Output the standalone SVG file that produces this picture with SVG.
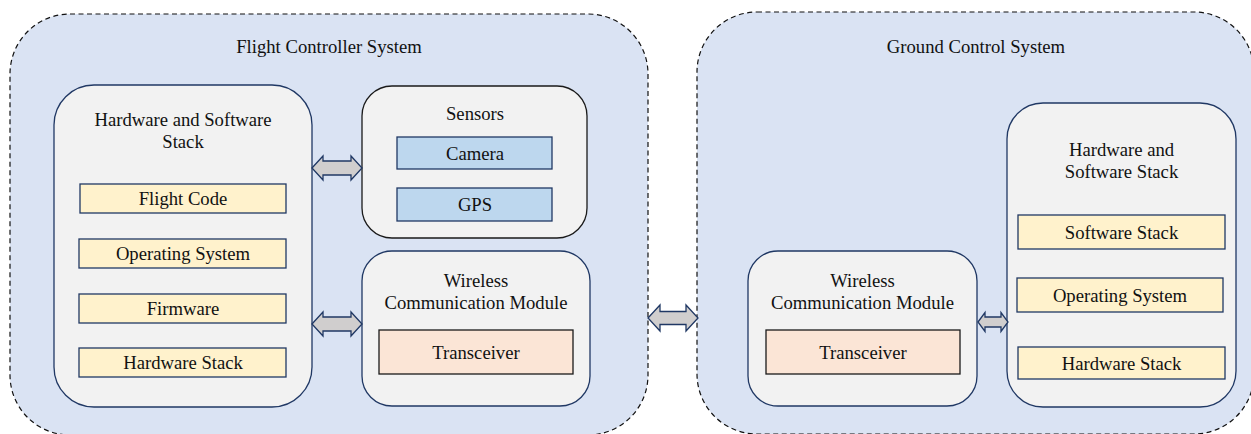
<svg xmlns="http://www.w3.org/2000/svg" width="1251" height="434" viewBox="0 0 1251 434">
<style>
text{font-family:"Liberation Serif","Times New Roman",serif;font-size:18.67px;fill:#111;text-anchor:middle}
.sys{fill:#dae3f3;stroke:#111;stroke-width:1.2;stroke-dasharray:5,3.5}
.box{fill:#f2f2f2;stroke:#203864;stroke-width:1.3}
.boxk{fill:#f2f2f2;stroke:#1a1a1a;stroke-width:1.3}
.yel{fill:#fff2cc;stroke:#203864;stroke-width:1.3}
.blu{fill:#bdd7ee;stroke:#203864;stroke-width:1.3}
.pch{fill:#fbe5d6;stroke:#1a1a1a;stroke-width:1.3}
.arr{fill:#d0cece;stroke:#203864;stroke-width:1.3;stroke-linejoin:miter}
</style>
<g id="flight-controller-system">
<rect class="sys" x="10" y="14" width="638" height="421" rx="60" ry="60"/>
<text x="329" y="53">Flight Controller System</text>
</g>
<g id="ground-control-system">
<rect class="sys" x="697" y="12" width="557" height="422" rx="60" ry="60"/>
<text x="976" y="53">Ground Control System</text>
</g>
<g id="fc-stack">
<rect class="box" x="54" y="85" width="258" height="322" rx="40" ry="40"/>
<text x="183" y="126">Hardware and Software</text>
<text x="183" y="148">Stack</text>
</g>
<g id="fc-flight-code"><rect class="yel" x="80" y="184" width="206" height="29"/><text x="183" y="204.5">Flight Code</text></g>
<g id="fc-os"><rect class="yel" x="79" y="239" width="207" height="29"/><text x="183" y="259.5">Operating System</text></g>
<g id="fc-firmware"><rect class="yel" x="79" y="294" width="207" height="29"/><text x="183" y="314.5">Firmware</text></g>
<g id="fc-hardware"><rect class="yel" x="79" y="348" width="207" height="29"/><text x="183" y="368.5">Hardware Stack</text></g>
<g id="sensors">
<rect class="boxk" x="362" y="86" width="225" height="152" rx="30" ry="30"/>
<text x="475" y="120">Sensors</text>
</g>
<g id="camera"><rect class="blu" x="397" y="137" width="155" height="32"/><text x="475" y="159.5">Camera</text></g>
<g id="gps"><rect class="blu" x="397" y="188" width="155" height="33"/><text x="475" y="211">GPS</text></g>
<g id="fc-wireless">
<rect class="box" x="362" y="251" width="228" height="155" rx="30" ry="30"/>
<text x="476" y="287">Wireless</text>
<text x="476" y="309">Communication Module</text>
</g>
<g id="fc-transceiver"><rect class="pch" x="379" y="330" width="194" height="44"/><text x="476" y="358.5">Transceiver</text></g>
<g id="gc-wireless">
<rect class="box" x="748" y="251" width="229" height="155" rx="30" ry="30"/>
<text x="862.5" y="287">Wireless</text>
<text x="862.5" y="309">Communication Module</text>
</g>
<g id="gc-transceiver"><rect class="pch" x="766" y="330" width="194" height="44"/><text x="863" y="358.5">Transceiver</text></g>
<g id="gc-stack">
<rect class="box" x="1007" y="103" width="229" height="304" rx="36" ry="36"/>
<text x="1121.5" y="156">Hardware and</text>
<text x="1121.5" y="178">Software Stack</text>
</g>
<g id="gc-software"><rect class="yel" x="1018" y="215" width="207" height="34"/><text x="1121.5" y="238.5">Software Stack</text></g>
<g id="gc-os"><rect class="yel" x="1017" y="278" width="206" height="34"/><text x="1120" y="301.5">Operating System</text></g>
<g id="gc-hardware"><rect class="yel" x="1018" y="347" width="207" height="32"/><text x="1121.5" y="369.5">Hardware Stack</text></g>
<g id="connectors">
<path class="arr" d="M312,168 L323,156 L323,161 L351,161 L351,156 L362,168 L351,180 L351,175 L323,175 L323,180 Z"/>
<path class="arr" d="M312,324 L323,312 L323,317 L351,317 L351,312 L362,324 L351,336 L351,331 L323,331 L323,336 Z"/>
<path class="arr" d="M648,318 L660,305 L660,311.5 L686,311.5 L686,305 L698,318 L686,331 L686,324.5 L660,324.5 L660,331 Z"/>
<path class="arr" d="M978,322 L985,312.5 L985,317 L1001,317 L1001,312.5 L1008,322 L1001,331.5 L1001,327 L985,327 L985,331.5 Z"/>
</g>
</svg>
